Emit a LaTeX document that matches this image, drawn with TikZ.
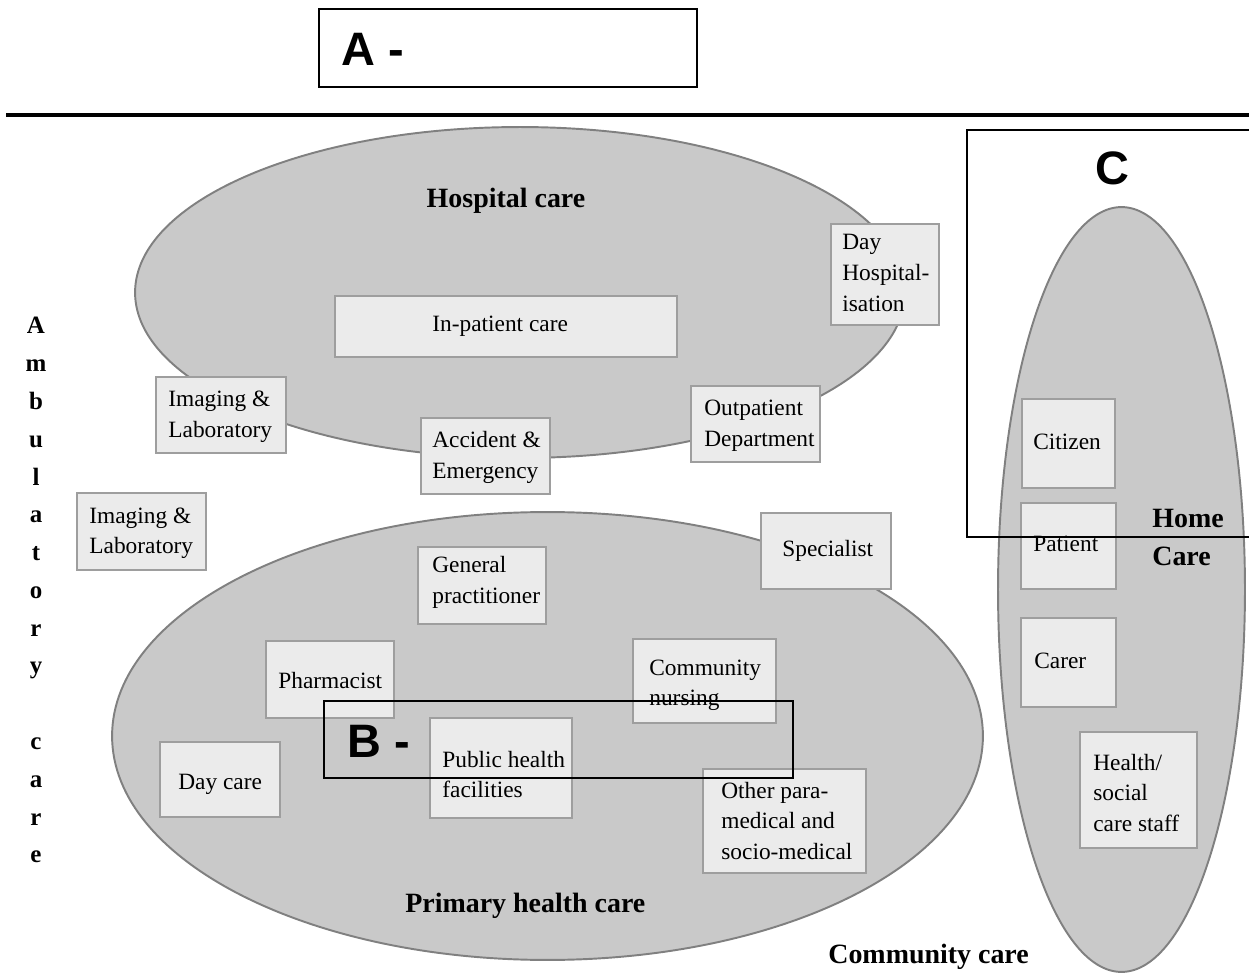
\documentclass[tikz,border=0pt]{standalone}
\usepackage{fontspec}
\setmainfont{Liberation Serif}
\newfontfamily\hvfont{Liberation Sans}
\usetikzlibrary{shapes.geometric,fit}
\definecolor{ellfill}{gray}{0.79}
\definecolor{elldraw}{gray}{0.5}
\definecolor{boxfill}{gray}{0.92}
\definecolor{boxdraw}{gray}{0.62}
\newcommand{\ml}[1]{\begin{tabular}[t]{@{}l@{}}#1\end{tabular}}
\newcommand{\mc}[1]{\begin{tabular}[t]{@{}c@{}}#1\end{tabular}}
\begin{document}
\begin{tikzpicture}[x=0.02cm,y=-0.02cm,
  ell/.style={ellipse, draw=elldraw, fill=ellfill, line width=1.1pt, inner sep=0pt, outer sep=0pt},
  cbox/.style={rectangle, draw=boxdraw, fill=boxfill, line width=1.4pt, inner sep=0pt},
  txt/.style={font=\fontsize{13.3}{17.4}\selectfont, inner sep=0pt, anchor=base west},
  hd/.style={font=\fontsize{15.9}{21.6}\selectfont\bfseries, inner sep=0pt},
  vert/.style={font=\fontsize{14.2}{21.5}\selectfont\bfseries, inner sep=0pt, anchor=base},
  callout/.style={draw=black, line width=1.7pt, inner sep=0pt},
  lettr/.style={font=\hvfont\bfseries\fontsize{26.7}{30}\selectfont, inner sep=0pt}]
\useasboundingbox (0,0) rectangle (1249,973);
\fill[white] (0,0) rectangle (1249,973);

% ellipses
\node[ell, minimum width=15.4cm, minimum height=6.62cm] (hosp) at (520,292.5) {};
\node[ell, minimum width=17.42cm, minimum height=8.96cm] (prim) at (547.5,736) {};
\node[ell, minimum width=4.94cm, minimum height=15.3cm] (home) at (1121.5,589.5) {};

% boxes
\node[cbox, fit={(335,296) (677,357)}] (inpat) {};
\node[cbox, fit={(831,224) (939,325)}] (dayh) {};
\node[cbox, fit={(691,386) (820,462)}] (outp) {};
\node[cbox, fit={(156,377) (286,453)}] (imga) {};
\node[cbox, fit={(421,418) (550,494)}] (acc) {};
\node[cbox, fit={(77,493) (206,570)}] (imgb) {};
\node[cbox, fit={(418,547) (546,624)}] (gp) {};
\node[cbox, fit={(761,513) (891,589)}] (spec) {};
\node[cbox, fit={(266,641) (394,718)}] (pharm) {};
\node[cbox, fit={(633,639) (776,723)}] (comm) {};
\node[cbox, fit={(160,742) (280,817)}] (dayc) {};
\node[cbox, fit={(430,718) (572,818)}] (pub) {};
\node[cbox, fit={(703,769) (866,873)}] (other) {};
\node[cbox, fit={(1022,399) (1115,488)}] (citz) {};
\node[cbox, fit={(1021,503) (1116,589)}] (pat) {};
\node[cbox, fit={(1021,618) (1116,707)}] (carer) {};
\node[cbox, fit={(1080,732) (1197,848)}] (hstaff) {};

% box texts
\node[txt] (inpatT) at (432,332) {In-patient care};
\node[txt] (dayhT) at (842,250) {\ml{Day\\Hospital-\\isation}};
\node[txt] (outpT) at (704,416) {\ml{Outpatient\\Department}};
\node[txt] (imgaT) at (168,407) {\ml{Imaging \&\\Laboratory}};
\node[txt] (accT) at (432,448) {\ml{Accident \&\\Emergency}};
\node[txt] (imgbT) at (89,523) {\ml{Imaging \&\\Laboratory}};
\node[txt] (gpT) at (432,573) {\ml{General\\practitioner}};
\node[txt] (specT) at (782,557) {Specialist};
\node[txt] (pharmT) at (278,688) {Pharmacist};
\node[txt] (commT) at (649,675) {\ml{Community\\nursing}};
\node[txt] (daycT) at (178,789) {Day care};
\node[txt] (pubT) at (442,767) {\ml{Public health\\facilities}};
\node[txt] (otherT) at (721,798) {\ml{Other para-\\medical and\\socio-medical}};
\node[txt] (citzT) at (1033,450) {Citizen};
\node[txt] (patT) at (1033,552) {Patient};
\node[txt] (carerT) at (1034,668) {Carer};
\node[txt] (hstaffT) at (1093,770) {\ml{Health/\\social\\care staff}};

% headings
\node[hd, anchor=base] (hospT) at (506,208) {Hospital care};
\node[hd, anchor=base west] (primT) at (405,912) {Primary health care};
\node[hd, anchor=base west] (commcT) at (828,963) {Community care};
\node[hd, anchor=base west] (homeT) at (1152,528) {\ml{Home\\Care}};
\node[vert] (ambT) at (36,334) {\mc{A\\m\\b\\u\\l\\a\\t\\o\\r\\y\\ \\c\\a\\r\\e}};

% overlay callouts
\coordinate (lineL) at (6,115);
\coordinate (lineR) at (1249,115);
\draw[line width=2pt] (lineL) -- (lineR);
\node[callout, fit={(319,9) (697,87)}] (boxA) {};
\node[lettr, anchor=base west] (labA) at (341,66) {A -};
\node[callout, fit={(324,701) (793,778)}] (boxB) {};
\node[lettr, anchor=base west] (labB) at (347,757) {B -};
\node[callout, fit={(967,130) (1262,537)}] (boxC) {};
\node[lettr, anchor=base] (labC) at (1112,185) {C};
\end{tikzpicture}
\end{document}
